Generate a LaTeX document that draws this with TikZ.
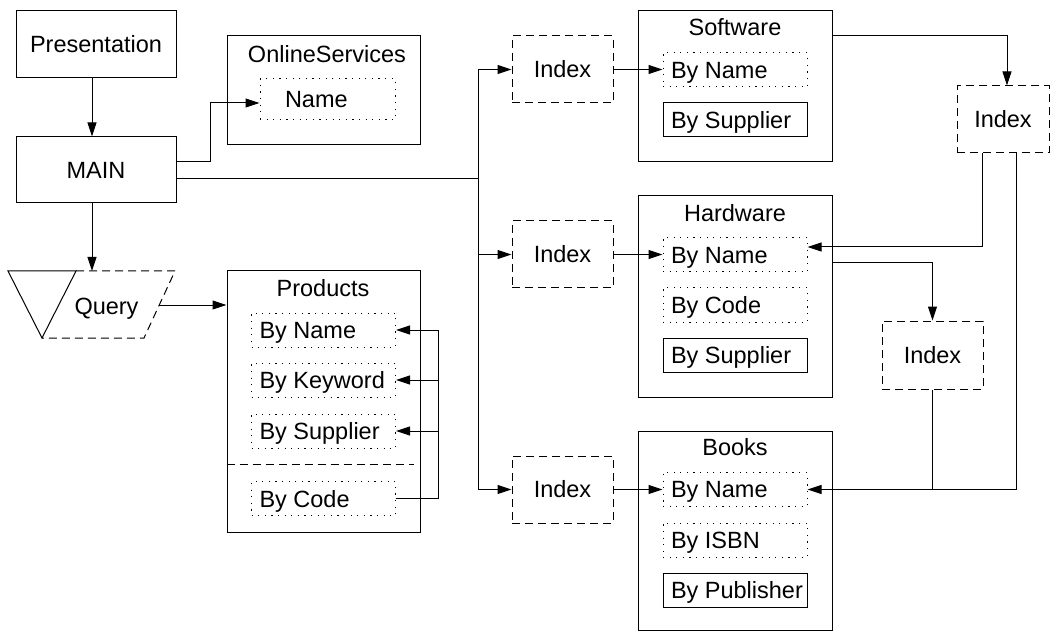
\documentclass[tikz,border=0pt]{standalone}
\usepackage{fontspec}
\setmainfont{Liberation Sans}
\usetikzlibrary{arrows.meta}
\newcommand\ent[1]{\makebox[128pt][l]{#1}}
\begin{document}
\begin{tikzpicture}[x=1pt,y=-1pt,
 every node/.style={font=\fontsize{23.5}{28}\selectfont},
 box/.style={draw, line width=1pt, inner sep=0pt},
 plain/.style={box},
 container/.style={box},
 dotline/.style={dash pattern=on 1.2pt off 5.4pt},
 dashline/.style={dash pattern=on 8pt off 5pt},
 entry/.style={box, dotline, minimum width=144pt, minimum height=34pt, inner xsep=8pt, text depth=0pt},
 solidentry/.style={box, minimum width=144pt, minimum height=34pt, inner xsep=8pt, text depth=0pt},
 idx/.style={box, dashline, minimum width=101pt, minimum height=67pt},
 title/.style={anchor=base, inner sep=0pt},
 conn/.style={line width=1pt},
 arr/.style={conn, -{Triangle[length=14pt,width=9pt]}},
]
\useasboundingbox (0,0) rectangle (1050,631);

% left column
\node[plain, minimum width=160pt, minimum height=67pt] (pres) at (96,44.5) {Presentation};
\node[plain, minimum width=160pt, minimum height=66pt] (main) at (96,170) {MAIN};

% OnlineServices
\node[container, minimum width=193pt, minimum height=109pt] (online) at (323.5,90.5) {};
\node[title] (onlineT) at (327,63) {OnlineServices};
\node[entry, minimum width=135pt, minimum height=41pt, inner xsep=25pt] (oname) at (327.5,99.5) {\makebox[85pt][l]{Name}};

% Query
\coordinate (qa) at (8,271);
\coordinate (qb) at (76,271);
\coordinate (qc) at (42,338);
\coordinate (qd) at (175,271);
\coordinate (qe) at (144,338);
\coordinate (qout) at (159.3,305);
\draw[conn] (qa) -- (qb) -- (qc) -- cycle;
\draw[conn, dashline] (qb) -- (qd) -- (qe) -- (qc);
\node[title] (query) at (106.5,314) {Query};

% Products
\node[container, minimum width=193pt, minimum height=261pt] (products) at (323.5,401.5) {};
\node[title] (productsT) at (323,297) {Products};
\node[entry] (pname) at (323.5,330) {\ent{By Name}};
\node[entry] (pkey) at (323.5,380) {\ent{By Keyword}};
\node[entry] (psup) at (323.5,431) {\ent{By Supplier}};
\node[entry] (pcode) at (323.5,498.5) {\ent{By Code}};
\draw[conn, dashline] ([yshift=68pt]products.south west) -- ([yshift=68pt,xshift=-7pt]products.south east);

% Index column
\node[idx] (idx1) at (562.5,69.5) {Index};
\node[idx] (idx2) at (562.5,254.5) {Index};
\node[idx] (idx3) at (562.5,489.5) {Index};

% Software
\node[container, minimum width=194pt, minimum height=151pt] (software) at (735,86.5) {};
\node[title] (softwareT) at (735,36) {Software};
\node[entry] (sname) at (735,70) {\ent{By Name}};
\node[solidentry] (ssup) at (735,120) {\ent{By Supplier}};

% Hardware
\node[container, minimum width=194pt, minimum height=201pt] (hardware) at (735,296.5) {};
\node[title] (hardwareT) at (735,222) {Hardware};
\node[entry] (hname) at (735,255) {\ent{By Name}};
\node[entry] (hcode) at (735,305) {\ent{By Code}};
\node[solidentry] (hsup) at (735,355) {\ent{By Supplier}};

% Books
\node[container, minimum width=194pt, minimum height=199pt] (books) at (735,530.5) {};
\node[title] (booksT) at (735,455) {Books};
\node[entry] (bname) at (735,489.5) {\ent{By Name}};
\node[entry] (bisbn) at (735,540) {\ent{By ISBN}};
\node[solidentry] (bpub) at (735,590) {\ent{By Publisher}};

% right indexes
\node[idx, minimum width=92pt] (idxR) at (1003,119.5) {Index};
\node[idx, minimum height=68pt] (idxM) at (932.5,355) {Index};

% connectors
\draw[arr] ([xshift=-4pt]pres.south) -- ([xshift=-4pt]main.north);
\draw[arr] ([xshift=-4pt]main.south) -- ([xshift=-4pt]main.south |- qb);
\draw[arr] (qout) -- (products.west |- qout);
\draw[arr] ([yshift=8pt]main.east) -- ++(34,0) |- ([yshift=-3.5pt]oname.west);

\draw[conn] (pcode.east) -- ++(42,0) coordinate (pv) -- (pv |- pname.east);
\draw[arr] (pv |- pname.east) -- (pname.east);
\draw[arr] (pv |- pkey.east) -- (pkey.east);
\draw[arr] (pv |- psup.east) -- (psup.east);

\coordinate (tr) at (478,179);
\draw[conn] ([yshift=-9pt]main.east) -- (tr);
\draw[arr] (tr) |- (idx1.west);
\draw[arr] (tr) |- (idx3.west);
\draw[arr] (tr |- idx2.west) -- (idx2.west);

\draw[arr] (idx1.east) -- (idx1.east -| sname.west);
\draw[arr] (idx2.east) -- (idx2.east -| hname.west);
\draw[arr] (idx3.east) -- (idx3.east -| bname.west);

\draw[arr] ([yshift=-25pt]software.north east) -| ([xshift=4pt]idxR.north);
\draw[arr] ([xshift=-21pt]idxR.south) |- ([yshift=8pt]hname.east);
\draw[arr] ([xshift=13pt]idxR.south) |- (bname.east);
\draw[arr] ([yshift=33.5pt]hardware.east) -| (idxM.north);
\draw[conn] (idxM.south) -- (idxM.south |- bname.east);
\end{tikzpicture}
\end{document}
